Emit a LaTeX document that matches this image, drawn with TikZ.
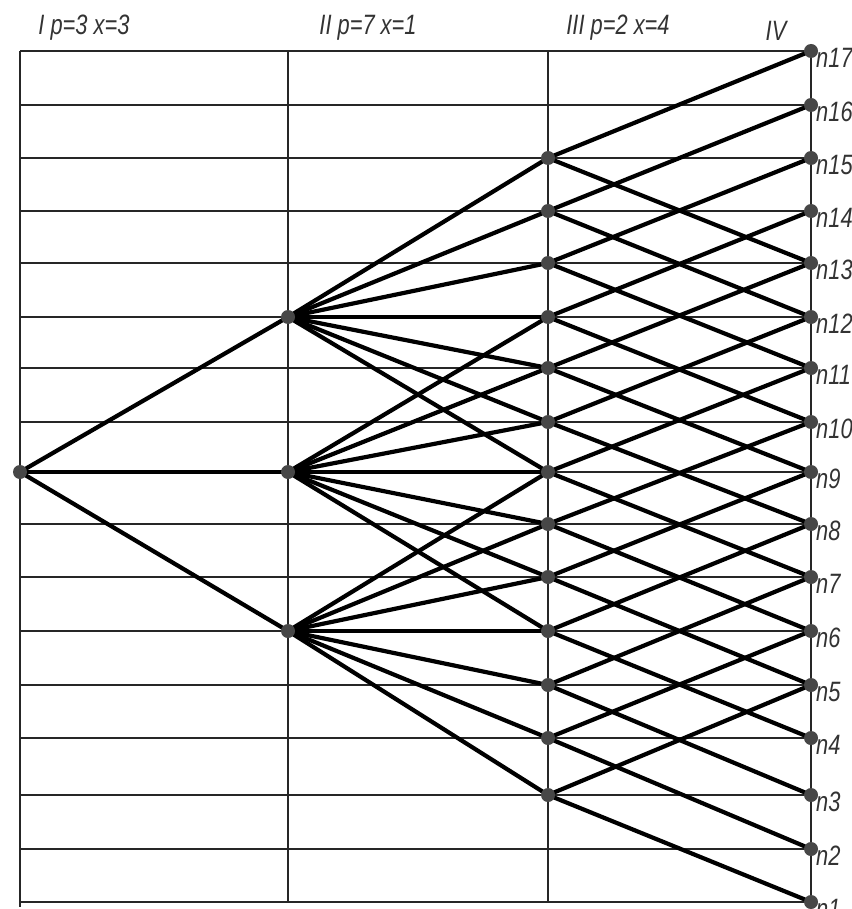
\documentclass[tikz,border=0pt]{standalone}
\usepackage{fontspec}
\newfontfamily\gost[FakeStretch=0.78]{Liberation Sans Italic}
\begin{document}
\begin{tikzpicture}[x=1pt,y=-1pt,
  grid/.style={line width=1.3pt,draw=black!85},
  edge/.style={line width=4.2pt,black},
  dot/.style={circle,fill=black!72,inner sep=0pt,minimum size=14pt},
  lbl/.style={font=\gost\fontsize{28}{28}\selectfont,inner sep=0pt,text=black!80},
  hdr/.style={font=\gost\fontsize{28}{28}\selectfont,inner sep=0pt,text=black!80}]
\useasboundingbox (0,0) rectangle (851,909);
% row positions
\def\rowlist{1/902,2/849,3/795,4/738,5/685,6/631,7/577,8/524,9/472,10/422,11/368,12/317,13/263,14/211,15/158,16/105,17/51}
% grid
\foreach \k/\y in \rowlist { \draw[grid] (20,\y) -- (811,\y); }
\draw[grid] (20,51) -- (20,907);
\draw[grid] (288,51) -- (288,902);
\draw[grid] (548,51) -- (548,902);
\draw[grid] (811,46) -- (811,905);
% headers
\node[hdr] (h1) at (84,28) {I p=3 x=3};
\node[hdr] (h2) at (368,28) {II p=7 x=1};
\node[hdr] (h3) at (618,28) {III p=2 x=4};
\node[hdr] (h4) at (776,31) {IV};
% coordinates
\foreach \k/\y in \rowlist {
  \coordinate (c4-\k) at (811,\y);
  \coordinate (c3-\k) at (548,\y);
  \coordinate (c2-\k) at (288,\y);
}
\coordinate (c1-9) at (20,472);
% edges I -> II
\foreach \t in {12,9,6} { \draw[edge] (c1-9) -- (c2-\t); }
% edges II -> III
\foreach \s in {12,9,6} {
  \foreach \d in {-3,...,3} {
    \pgfmathtruncatemacro\t{\s+\d}
    \draw[edge] (c2-\s) -- (c3-\t);
  }
}
% edges III -> IV
\foreach \s in {3,...,15} {
  \pgfmathtruncatemacro\a{\s+2}
  \pgfmathtruncatemacro\b{\s-2}
  \draw[edge] (c3-\s) -- (c4-\a);
  \draw[edge] (c3-\s) -- (c4-\b);
}
% dots
\node[dot] (p1) at (c1-9) {};
\foreach \s in {12,9,6} { \node[dot] (q\s) at (c2-\s) {}; }
\foreach \s in {3,...,15} { \node[dot] (r\s) at (c3-\s) {}; }
\foreach \k/\y in \rowlist {
  \node[dot] (s\k) at (c4-\k) {};
  \node[lbl,anchor=west] (l\k) at (816,\y+7) {n\k};
}
\end{tikzpicture}
\end{document}
